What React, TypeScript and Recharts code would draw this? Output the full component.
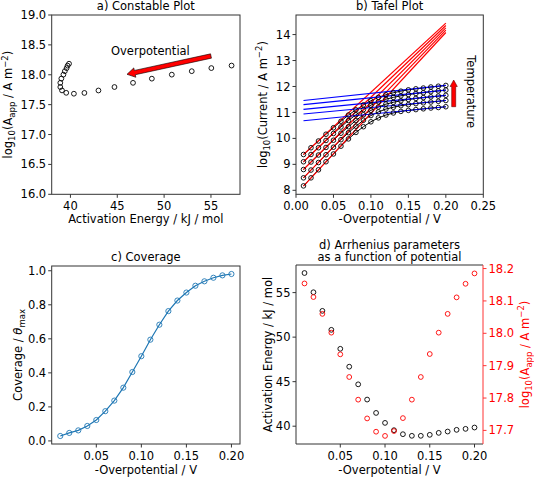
import React from 'react';
import { ComposedChart, Line, XAxis, YAxis } from 'recharts';

const FONT = '"DejaVu Sans", sans-serif';
const FS = 11.5;
const SMALL = 8.5;

// -overpotential steps (V)
const overpotential = [0.01, 0.02, 0.03, 0.04, 0.05, 0.06, 0.07, 0.08, 0.09, 0.1, 0.11, 0.12, 0.13, 0.14, 0.15, 0.16, 0.17, 0.18, 0.19, 0.2];

// Arrhenius fits per potential
const activationEnergy = [57.2, 55.04, 52.95, 50.82, 48.69, 46.68, 44.7, 42.99, 41.49, 40.37, 39.55, 39.1, 38.92, 38.92, 39.03, 39.25, 39.4, 39.59, 39.7, 39.85];
const logPrefactor = [18.154, 18.112, 18.06, 18.002, 17.935, 17.865, 17.795, 17.737, 17.696, 17.683, 17.698, 17.738, 17.795, 17.865, 17.936, 18.002, 18.06, 18.111, 18.153, 18.185];

const coverage = [0.029, 0.047, 0.062, 0.088, 0.123, 0.175, 0.237, 0.313, 0.405, 0.498, 0.595, 0.683, 0.763, 0.825, 0.872, 0.912, 0.938, 0.959, 0.973, 0.981];

// Tafel curves, one per temperature (lowest first)
const tafelT1 = [8.17, 8.48, 8.79, 9.1, 9.4, 9.7, 9.98, 10.23, 10.45, 10.64, 10.79, 10.9, 10.98, 11.04, 11.08, 11.11, 11.14, 11.17, 11.19, 11.22];
const tafelT2 = [8.48, 8.78, 9.07, 9.37, 9.66, 9.95, 10.22, 10.47, 10.7, 10.88, 11.02, 11.13, 11.2, 11.26, 11.3, 11.34, 11.37, 11.4, 11.43, 11.46];
const tafelT3 = [8.8, 9.09, 9.36, 9.65, 9.93, 10.2, 10.45, 10.69, 10.91, 11.08, 11.21, 11.32, 11.39, 11.45, 11.5, 11.54, 11.57, 11.6, 11.63, 11.66];
const tafelT4 = [9.1, 9.38, 9.64, 9.92, 10.19, 10.44, 10.69, 10.91, 11.11, 11.28, 11.41, 11.51, 11.58, 11.64, 11.69, 11.73, 11.76, 11.8, 11.83, 11.86];
const tafelT5 = [9.38, 9.64, 9.9, 10.16, 10.41, 10.66, 10.9, 11.1, 11.29, 11.45, 11.58, 11.68, 11.76, 11.82, 11.87, 11.91, 11.94, 11.98, 12.01, 12.04];

// low / high overpotential tangent lines, values at 0.01 and 0.20 V
const lowFitStart = [8.16, 8.48, 8.8, 9.1, 9.38];
const lowFitEnd = [14.08, 14.17, 14.26, 14.35, 14.44];
const highFitStart = [10.68, 10.94, 11.12, 11.3, 11.46];
const highFitEnd = [11.22, 11.46, 11.66, 11.86, 12.04];

const aXTicks = [40, 45, 50, 55];
const aYTicks = [16, 16.5, 17, 17.5, 18, 18.5, 19];
const bXTicks = [0, 0.05, 0.1, 0.15, 0.2, 0.25];
const bYTicks = [8, 9, 10, 11, 12, 13, 14];
const cXTicks = [0.05, 0.1, 0.15, 0.2];
const cYTicks = [0, 0.2, 0.4, 0.6, 0.8, 1];
const dLeftTicks = [40, 45, 50, 55];
const dRightTicks = [17.7, 17.8, 17.9, 18, 18.1, 18.2];

const tickStyle = { fontSize: FS, fill: '#000', fontFamily: FONT };
const tickLine = { stroke: '#000', strokeWidth: 0.8 };
const ring = (color: string, r: number) => ({ r, fill: 'none', stroke: color, strokeWidth: 0.9 });

const tafelCurves = [tafelT1, tafelT2, tafelT3, tafelT4, tafelT5].map((s) =>
  s.map((y, i) => ({ x: overpotential[i], y }))
);
const lowFits = lowFitStart.map((v, i) => [
  { x: overpotential[0], y: v },
  { x: overpotential[overpotential.length - 1], y: lowFitEnd[i] },
]);
const highFits = highFitStart.map((v, i) => [
  { x: overpotential[0], y: v },
  { x: overpotential[overpotential.length - 1], y: highFitEnd[i] },
]);

function arrowPoints(tx: number, ty: number, hx: number, hy: number, shaft: number, head: number, headLen: number) {
  const len = Math.hypot(hx - tx, hy - ty);
  const ux = (hx - tx) / len;
  const uy = (hy - ty) / len;
  const nx = -uy;
  const ny = ux;
  const bx = hx - ux * headLen;
  const by = hy - uy * headLen;
  const pts = [
    [tx + nx * shaft, ty + ny * shaft],
    [bx + nx * shaft, by + ny * shaft],
    [bx + nx * head, by + ny * head],
    [hx, hy],
    [bx - nx * head, by - ny * head],
    [bx - nx * shaft, by - ny * shaft],
    [tx - nx * shaft, ty - ny * shaft],
  ];
  return pts.map((p) => p.join(',')).join(' ');
}

// log10(A_app / A m^-2), used twice
function PrefactorLabel({ x, y, color }: { x: number; y: number; color: string }) {
  return (
    <text fontFamily={FONT} fontSize={FS} fill={color} textAnchor="middle" transform={`translate(${x},${y}) rotate(-90)`}>
      log<tspan dy={3} fontSize={SMALL}>10</tspan>
      <tspan dy={-3}>(A</tspan>
      <tspan dy={3} fontSize={SMALL}>app</tspan>
      <tspan dy={-3}> / A m</tspan>
      <tspan dy={-4.5} fontSize={SMALL}>−2</tspan>
      <tspan dy={4.5}>)</tspan>
    </text>
  );
}

function Overlay() {
  const t = { fontFamily: FONT, fontSize: FS, fill: '#000' };
  return (
    <svg width={534} height={478} style={{ position: 'absolute', left: 0, top: 0, pointerEvents: 'none' }}>
      {/* frames */}
      <rect x={51.7} y={15} width={188.3} height={179.3} fill="none" stroke="#333" strokeWidth={1} />
      <rect x={296} y={15} width={187.3} height={179.3} fill="none" stroke="#333" strokeWidth={1} />
      <rect x={51.7} y={266} width={188.3} height={178} fill="none" stroke="#333" strokeWidth={1} />
      <polyline points="483,265 296,265 296,444 483,444" fill="none" stroke="#333" strokeWidth={1} />
      <line x1={483} y1={265} x2={483} y2={444} stroke="#f33" strokeWidth={1} />

      {/* titles */}
      <text {...t} x={145.85} y={10} textAnchor="middle">a) Constable Plot</text>
      <text {...t} x={389.65} y={10} textAnchor="middle">b) Tafel Plot</text>
      <text {...t} x={145.85} y={261} textAnchor="middle">c) Coverage</text>
      <text {...t} x={389.5} y={248.5} textAnchor="middle">d) Arrhenius parameters</text>
      <text {...t} x={389.5} y={261} textAnchor="middle">as a function of potential</text>

      {/* x labels */}
      <text {...t} x={145.85} y={222.5} textAnchor="middle">Activation Energy / kJ / mol</text>
      <text {...t} x={389.65} y={222.5} textAnchor="middle">-Overpotential / V</text>
      <text {...t} x={145.85} y={474} textAnchor="middle">-Overpotential / V</text>
      <text {...t} x={389.5} y={474} textAnchor="middle">-Overpotential / V</text>

      {/* y labels */}
      <PrefactorLabel x={12} y={104.6} color="#000" />
      <text {...t} textAnchor="middle" transform="translate(266.5,104.6) rotate(-90)">
        log<tspan dy={3} fontSize={SMALL}>10</tspan>
        <tspan dy={-3}>(Current / A m</tspan>
        <tspan dy={-4.5} fontSize={SMALL}>−2</tspan>
        <tspan dy={4.5}>)</tspan>
      </text>
      <text {...t} textAnchor="middle" transform="translate(22,355) rotate(-90)">
        Coverage / <tspan fontStyle="italic">θ</tspan>
        <tspan dy={3} fontSize={SMALL}>max</tspan>
      </text>
      <text {...t} textAnchor="middle" transform="translate(271.5,354.5) rotate(-90)">
        Activation Energy / kJ / mol
      </text>
      <PrefactorLabel x={528.5} y={354.5} color="#ff0000" />

      {/* annotations */}
      <text {...t} x={111} y={55}>Overpotential</text>
      <polygon points={arrowPoints(211, 56, 127, 74.3, 2.2, 4.8, 8)} fill="#ff0000" stroke="#000" strokeWidth={0.6} />
      <text {...t} textAnchor="middle" transform="translate(466.8,91.7) rotate(90)">Temperature</text>
      <polygon points={arrowPoints(453.7, 106.7, 453.7, 80, 2, 3.6, 6.5)} fill="#ff0000" stroke="#600" strokeWidth={0.6} />
    </svg>
  );
}

export default function App() {
  const constableRows = activationEnergy.map((e, i) => ({ x: e, y: logPrefactor[i] }));
  const coverageRows = coverage.map((c, i) => ({ x: overpotential[i], y: c }));
  const arrheniusRows = overpotential.map((x, i) => ({ x, ea: activationEnergy[i], la: logPrefactor[i] }));

  return (
    <div style={{ position: 'absolute', left: 0, top: 0, width: 534, height: 478, background: '#fff', fontFamily: FONT }}>
      <div style={{ position: 'absolute', left: 0, top: 0 }}>
        <ComposedChart width={267} height={240} margin={{ top: 15, right: 27, bottom: 15.7, left: 11.7 }}>
          <XAxis type="number" dataKey="x" domain={[38, 58.1]} ticks={aXTicks} interval={0} allowDataOverflow
            height={30} tickSize={3.5} tickMargin={4} tick={tickStyle} tickLine={tickLine} axisLine={false} />
          <YAxis type="number" domain={[16, 19]} ticks={aYTicks} interval={0} allowDataOverflow width={40}
            tickSize={3.5} tickMargin={2} tick={tickStyle} tickLine={tickLine} axisLine={false}
            tickFormatter={(v: number) => v.toFixed(1)} />
          <Line data={constableRows} dataKey="y" stroke="none" dot={ring('#000', 2.4)} activeDot={false} isAnimationActive={false} />
        </ComposedChart>
      </div>

      <div style={{ position: 'absolute', left: 267, top: 0 }}>
        <ComposedChart width={267} height={240} margin={{ top: 15, right: 50.7, bottom: 15.7, left: 4 }}>
          <XAxis type="number" dataKey="x" domain={[0, 0.25]} ticks={bXTicks} interval={0} allowDataOverflow
            height={30} tickSize={3.5} tickMargin={4} tick={tickStyle} tickLine={tickLine} axisLine={false}
            tickFormatter={(v: number) => v.toFixed(2)} />
          <YAxis type="number" domain={[7.846, 14.754]} ticks={bYTicks} interval={0} allowDataOverflow width={25}
            tickSize={3.5} tickMargin={2} tick={tickStyle} tickLine={tickLine} axisLine={false} />
          {tafelCurves.map((d, i) => (
            <Line key={`t${i}`} data={d} dataKey="y" stroke="#000" strokeWidth={1} dot={ring('#000', 2.3)}
              activeDot={false} isAnimationActive={false} />
          ))}
          {lowFits.map((d, i) => (
            <Line key={`r${i}`} data={d} dataKey="y" stroke="#ff0000" strokeWidth={1.2} dot={false}
              activeDot={false} isAnimationActive={false} />
          ))}
          {highFits.map((d, i) => (
            <Line key={`b${i}`} data={d} dataKey="y" stroke="#0000ff" strokeWidth={1.2} dot={false}
              activeDot={false} isAnimationActive={false} />
          ))}
        </ComposedChart>
      </div>

      <div style={{ position: 'absolute', left: 0, top: 240 }}>
        <ComposedChart width={267} height={238} margin={{ top: 26, right: 27, bottom: 4, left: 11.7 }}>
          <XAxis type="number" dataKey="x" domain={[0.0005, 0.2095]} ticks={cXTicks} interval={0} allowDataOverflow
            height={30} tickSize={3.5} tickMargin={4} tick={tickStyle} tickLine={tickLine} axisLine={false}
            tickFormatter={(v: number) => v.toFixed(2)} />
          <YAxis type="number" domain={[-0.018, 1.028]} ticks={cYTicks} interval={0} allowDataOverflow width={40}
            tickSize={3.5} tickMargin={2} tick={tickStyle} tickLine={tickLine} axisLine={false}
            tickFormatter={(v: number) => v.toFixed(1)} />
          <Line data={coverageRows} dataKey="y" stroke="#1f77b4" strokeWidth={1.2} dot={ring('#1f77b4', 2.6)}
            activeDot={false} isAnimationActive={false} />
        </ComposedChart>
      </div>

      <div style={{ position: 'absolute', left: 267, top: 240 }}>
        <ComposedChart width={267} height={238} data={arrheniusRows} margin={{ top: 25, right: 11, bottom: 4, left: 4 }}>
          <XAxis type="number" dataKey="x" domain={[0.0005, 0.2095]} ticks={cXTicks} interval={0} allowDataOverflow
            height={30} tickSize={3.5} tickMargin={4} tick={tickStyle} tickLine={tickLine} axisLine={false}
            tickFormatter={(v: number) => v.toFixed(2)} />
          <YAxis yAxisId="left" type="number" domain={[38, 58.1]} ticks={dLeftTicks} interval={0} allowDataOverflow width={25}
            tickSize={3.5} tickMargin={2} tick={tickStyle} tickLine={tickLine} axisLine={false} />
          <YAxis yAxisId="right" orientation="right" type="number" domain={[17.658, 18.211]} ticks={dRightTicks} interval={0}
            allowDataOverflow width={40} tickSize={3.5} tickMargin={2}
            tick={{ ...tickStyle, fill: '#ff0000' }} tickLine={{ stroke: '#ff0000', strokeWidth: 0.8 }} axisLine={false}
            tickFormatter={(v: number) => v.toFixed(1)} />
          <Line yAxisId="left" dataKey="ea" stroke="none" dot={ring('#000', 2.4)} activeDot={false} isAnimationActive={false} />
          <Line yAxisId="right" dataKey="la" stroke="none" dot={ring('#ff0000', 2.4)} activeDot={false} isAnimationActive={false} />
        </ComposedChart>
      </div>

      <Overlay />
    </div>
  );
}
